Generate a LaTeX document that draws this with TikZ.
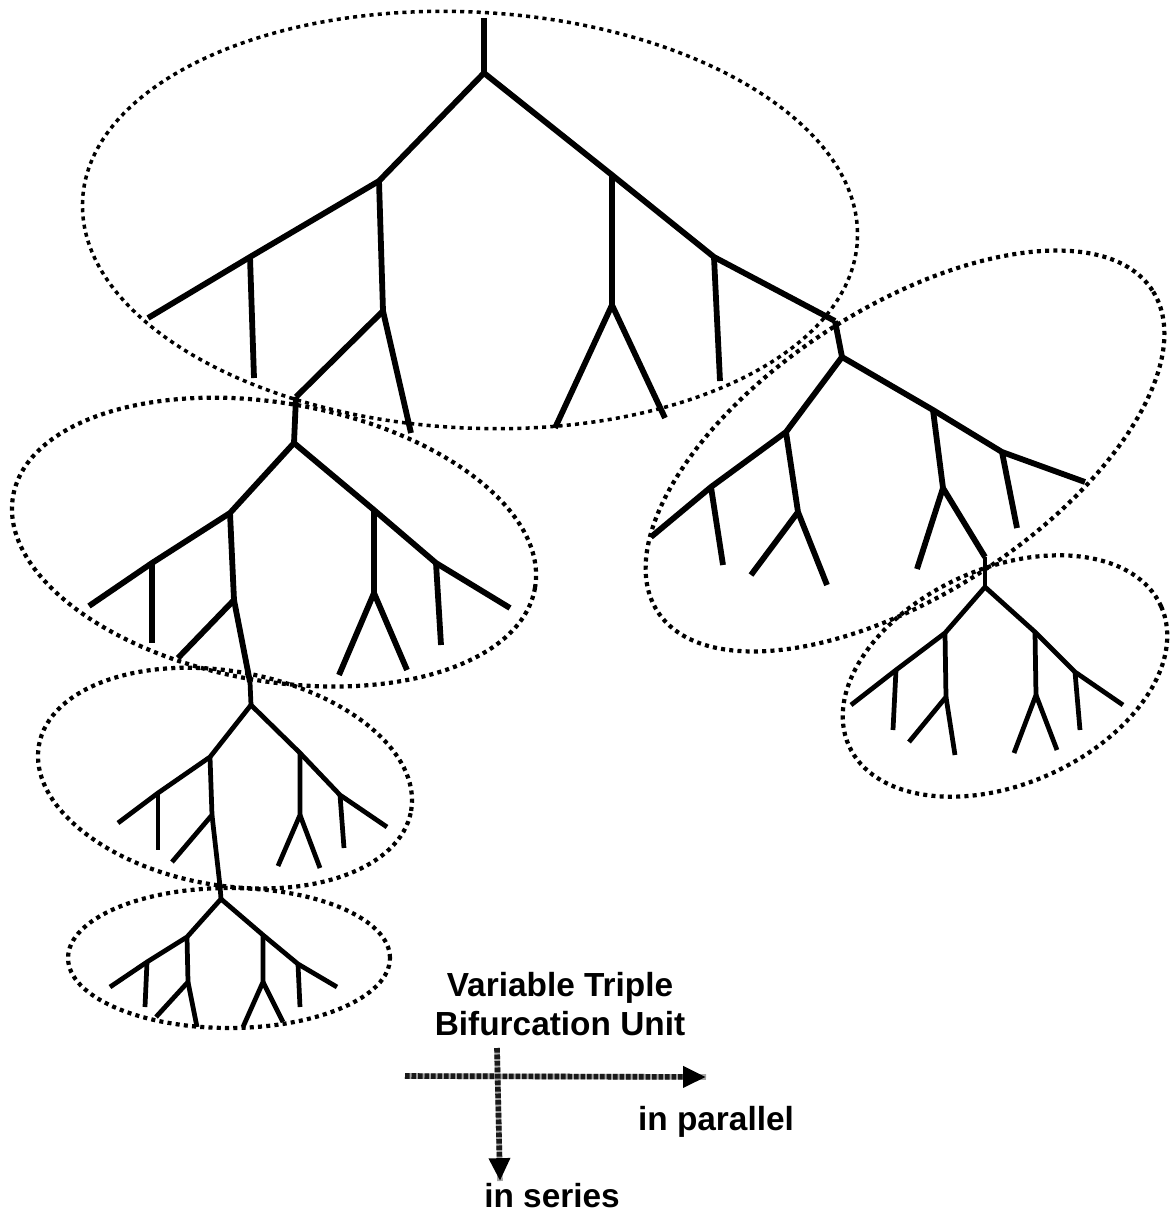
\documentclass[tikz,border=0pt]{standalone}
\usepackage{fontspec}
\setmainfont{Liberation Sans}
\usetikzlibrary{arrows.meta}
\begin{document}
\begin{tikzpicture}[x=0.02cm,y=-0.02cm,
  thick branch/.style={line width=3.3pt,line join=round},
  thin branch/.style={line width=2.7pt,line join=round},
  unit ring/.style={line width=2.4pt,dash pattern=on 2.3pt off 2.4pt},
  hatch arrow/.style={line width=3.2pt,black!90,dash pattern=on 2.6pt off 1.1pt,
     -{Triangle[length=13pt,width=11.5pt,color=black,fill=black]},
     preaction={draw,black!35,line width=3.2pt,-}},
  caption/.style={font=\bfseries\fontsize{19}{22}\selectfont,align=center,inner sep=0pt}]
\useasboundingbox (0,0) rectangle (1172,1215);

% ---------- first unit (top) ----------
\coordinate (a0) at (484,18);   \coordinate (a1) at (484,73);
\coordinate (aL) at (379,181);  \coordinate (aLL) at (250,257);
\coordinate (aLLe) at (148,318);\coordinate (aLLv) at (254,378);
\coordinate (aLm) at (383,311); \coordinate (aLml) at (296,397);
\coordinate (aLmr) at (411,433);
\coordinate (aR) at (612,175);  \coordinate (aRR) at (714,257);
\coordinate (aRRe) at (835,321);\coordinate (aRRv) at (720,381);
\coordinate (aRm) at (612,305); \coordinate (aRml) at (555,428);
\coordinate (aRmr) at (665,418);
\draw[thick branch] (a0) -- (a1);
\draw[thick branch] (a1) -- (aL) -- (aLL) -- (aLLe);
\draw[thick branch] (aLL) -- (aLLv);
\draw[thick branch] (aL) -- (aLm) -- (aLml);
\draw[thick branch] (aLm) -- (aLmr);
\draw[thick branch] (a1) -- (aR) -- (aRR) -- (aRRe);
\draw[thick branch] (aRR) -- (aRRv);
\draw[thick branch] (aR) -- (aRm) -- (aRml);
\draw[thick branch] (aRm) -- (aRmr);

% ---------- second unit, left series ----------
\coordinate (b1) at (294,443);
\coordinate (bL) at (230,513);  \coordinate (bLL) at (152,563);
\coordinate (bLLe) at (89,606); \coordinate (bLLv) at (152,643);
\coordinate (bLm) at (234,600); \coordinate (bLml) at (178,658);
\coordinate (bLmr) at (250,682);
\coordinate (bR) at (374,510);  \coordinate (bRR) at (436,563);
\coordinate (bRRe) at (510,608);\coordinate (bRRv) at (441,645);
\coordinate (bRm) at (374,593); \coordinate (bRml) at (339,675);
\coordinate (bRmr) at (407,670);
\draw[thick branch] (aLml) -- (b1);
\draw[thick branch] (b1) -- (bL) -- (bLL) -- (bLLe);
\draw[thick branch] (bLL) -- (bLLv);
\draw[thick branch] (bL) -- (bLm) -- (bLml);
\draw[thick branch] (bLm) -- (bLmr);
\draw[thick branch] (b1) -- (bR) -- (bRR) -- (bRRe);
\draw[thick branch] (bRR) -- (bRRv);
\draw[thick branch] (bR) -- (bRm) -- (bRml);
\draw[thick branch] (bRm) -- (bRmr);

% ---------- third unit ----------
\coordinate (c1) at (251,705);
\coordinate (cL) at (210,757);  \coordinate (cLL) at (158,793);
\coordinate (cLLe) at (118,823);\coordinate (cLLv) at (158,850);
\coordinate (cLm) at (212,815); \coordinate (cLml) at (172,862);
\coordinate (cLmr) at (220,886);
\coordinate (cR) at (300,753);  \coordinate (cRR) at (340,795);
\coordinate (cRRe) at (387,827);\coordinate (cRRv) at (344,848);
\coordinate (cRm) at (300,815); \coordinate (cRml) at (278,866);
\coordinate (cRmr) at (320,868);
\draw[thin branch] (bLmr) -- (c1);
\draw[thin branch] (c1) -- (cL) -- (cLL) -- (cLLe);
\draw[thin branch] (cLL) -- (cLLv);
\draw[thin branch] (cL) -- (cLm) -- (cLml);
\draw[thin branch] (cLm) -- (cLmr);
\draw[thin branch] (c1) -- (cR) -- (cRR) -- (cRRe);
\draw[thin branch] (cRR) -- (cRRv);
\draw[thin branch] (cR) -- (cRm) -- (cRml);
\draw[thin branch] (cRm) -- (cRmr);

% ---------- fourth unit ----------
\coordinate (d1) at (221,899);
\coordinate (dL) at (187,937);  \coordinate (dLL) at (147,962);
\coordinate (dLLe) at (110,987);\coordinate (dLLv) at (145,1007);
\coordinate (dLm) at (188,982); \coordinate (dLml) at (156,1017);
\coordinate (dLmr) at (197,1027);
\coordinate (dR) at (263,935);  \coordinate (dRR) at (298,964);
\coordinate (dRRe) at (337,987);\coordinate (dRRv) at (300,1007);
\coordinate (dRm) at (263,982); \coordinate (dRml) at (243,1027);
\coordinate (dRmr) at (283,1022);
\draw[thin branch] (cLmr) -- (d1);
\draw[thin branch] (d1) -- (dL) -- (dLL) -- (dLLe);
\draw[thin branch] (dLL) -- (dLLv);
\draw[thin branch] (dL) -- (dLm) -- (dLml);
\draw[thin branch] (dLm) -- (dLmr);
\draw[thin branch] (d1) -- (dR) -- (dRR) -- (dRRe);
\draw[thin branch] (dRR) -- (dRRv);
\draw[thin branch] (dR) -- (dRm) -- (dRml);
\draw[thin branch] (dRm) -- (dRmr);

% ---------- second unit, right parallel ----------
\coordinate (r1) at (842,357);
\coordinate (rL) at (786,432);  \coordinate (rLL) at (711,487);
\coordinate (rLLe) at (651,537);\coordinate (rLLv) at (723,565);
\coordinate (rLm) at (798,512); \coordinate (rLml) at (751,575);
\coordinate (rLmr) at (827,585);
\coordinate (rR) at (933,410);  \coordinate (rRR) at (1002,452);
\coordinate (rRRe) at (1085,482);\coordinate (rRRv) at (1017,528);
\coordinate (rRm) at (943,488); \coordinate (rRml) at (917,569);
\coordinate (rRmr) at (985,557);
\draw[thick branch] (aRRe) -- (r1);
\draw[thick branch] (r1) -- (rL) -- (rLL) -- (rLLe);
\draw[thick branch] (rLL) -- (rLLv);
\draw[thick branch] (rL) -- (rLm) -- (rLml);
\draw[thick branch] (rLm) -- (rLmr);
\draw[thick branch] (r1) -- (rR) -- (rRR) -- (rRRe);
\draw[thick branch] (rRR) -- (rRRv);
\draw[thick branch] (rR) -- (rRm) -- (rRml);
\draw[thick branch] (rRm) -- (rRmr);

% ---------- third unit, right ----------
\coordinate (s1) at (985,587);
\coordinate (sL) at (945,633);  \coordinate (sLL) at (896,670);
\coordinate (sLLe) at (851,705);\coordinate (sLLv) at (893,730);
\coordinate (sLm) at (946,697); \coordinate (sLml) at (909,742);
\coordinate (sLmr) at (955,755);
\coordinate (sR) at (1035,632); \coordinate (sRR) at (1075,672);
\coordinate (sRRe) at (1123,705);\coordinate (sRRv) at (1080,730);
\coordinate (sRm) at (1036,695);\coordinate (sRml) at (1014,753);
\coordinate (sRmr) at (1057,750);
\draw[thin branch] (rRmr) -- (s1);
\draw[thin branch] (s1) -- (sL) -- (sLL) -- (sLLe);
\draw[thin branch] (sLL) -- (sLLv);
\draw[thin branch] (sL) -- (sLm) -- (sLml);
\draw[thin branch] (sLm) -- (sLmr);
\draw[thin branch] (s1) -- (sR) -- (sRR) -- (sRRe);
\draw[thin branch] (sRR) -- (sRRv);
\draw[thin branch] (sR) -- (sRm) -- (sRml);
\draw[thin branch] (sRm) -- (sRmr);

% ---------- dotted rings round each unit ----------
\coordinate (e1) at (470,220);
\coordinate (e2) at (274,542);
\coordinate (e3) at (225,778);
\coordinate (e4) at (229,958);
\coordinate (e5) at (905,451);
\coordinate (e6) at (1005,676);
\draw[unit ring,line width=2pt,rotate around={-3:(e1)}] (e1) ellipse [x radius=7.76cm,y radius=4.16cm];
\draw[unit ring,rotate around={-10:(e2)}] (e2) ellipse [x radius=5.30cm,y radius=2.78cm];
\draw[unit ring,rotate around={-10:(e3)}] (e3) ellipse [x radius=3.78cm,y radius=2.14cm];
\draw[unit ring] (e4) ellipse [x radius=3.22cm,y radius=1.40cm];
\draw[unit ring,rotate around={33:(e5)}] (e5) ellipse [x radius=5.90cm,y radius=2.86cm];
\draw[unit ring,rotate around={24:(e6)}] (e6) ellipse [x radius=3.42cm,y radius=2.16cm];

% ---------- legend ----------
\node[caption] (title) at (560,1004) {Variable Triple\\Bifurcation Unit};
\coordinate (hs) at (405,1076); \coordinate (he) at (706,1077);
\coordinate (vs) at (497,1048); \coordinate (ve) at (500,1181);
\draw[hatch arrow] (hs) -- (he);
\draw[hatch arrow] (vs) -- (ve);
\node[caption] (par) at (716,1122) {in parallel};
\node[caption] (ser) at (552,1196) {in series};
\end{tikzpicture}
\end{document}
